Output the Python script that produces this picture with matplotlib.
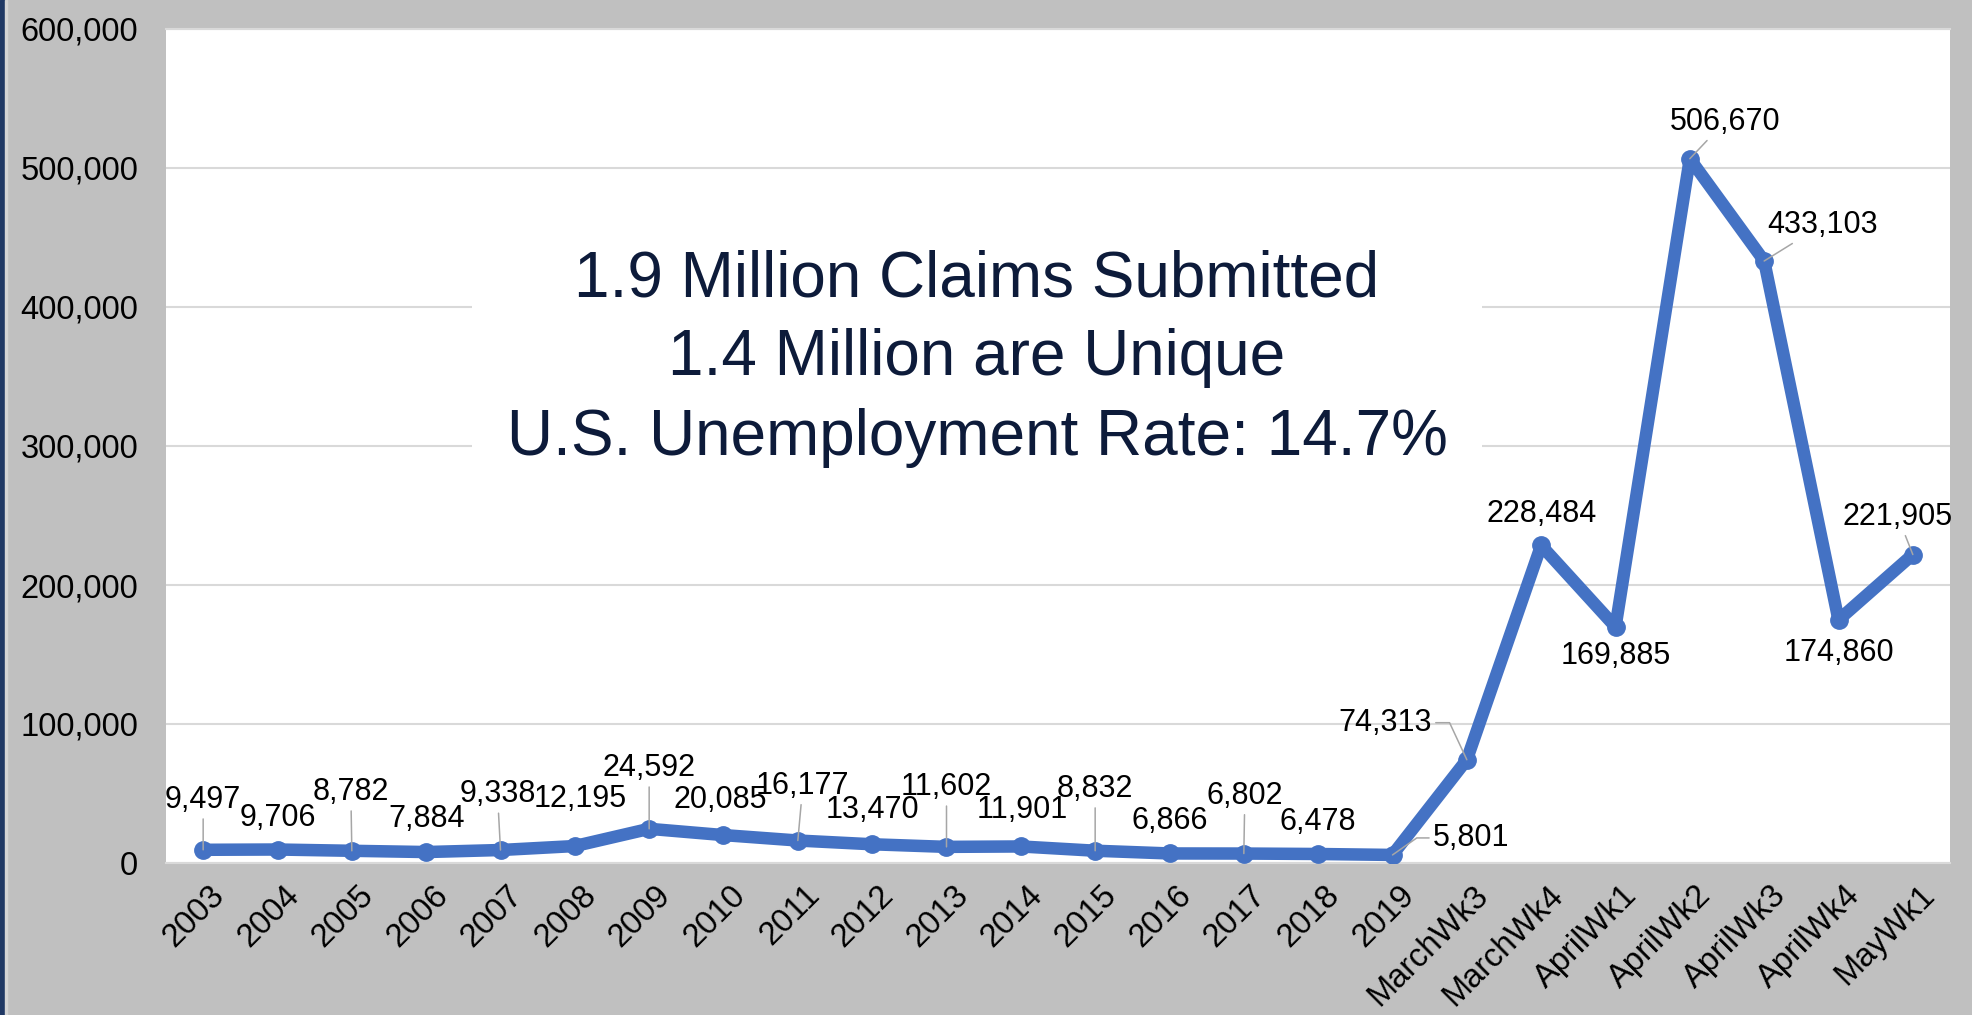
import matplotlib
matplotlib.use("Agg")
import matplotlib.pyplot as plt
from matplotlib.patches import Rectangle
from matplotlib.ticker import FuncFormatter, MultipleLocator
from matplotlib.transforms import ScaledTranslation

# ---------------- data ----------------
categories = ["2003", "2004", "2005", "2006", "2007", "2008", "2009", "2010",
              "2011", "2012", "2013", "2014", "2015", "2016", "2017", "2018",
              "2019", "MarchWk3", "MarchWk4", "AprilWk1", "AprilWk2",
              "AprilWk3", "AprilWk4", "MayWk1"]
claims = [9497, 9706, 8782, 7884, 9338, 12195, 24592, 20085,
          16177, 13470, 11602, 11901, 8832, 6866, 6802, 6478,
          5801, 74313, 228484, 169885, 506670,
          433103, 174860, 221905]
title_lines = ["1.9 Million Claims Submitted",
               "1.4 Million are Unique",
               "U.S. Unemployment Rate: 14.7%"]

# label placement (layout only): offsets in pixels and leader-line style
label_dx = [0, 0, -1, 0, -3, 5, 0, -3, 5, 0, 0, 1, 0, 0, 1, 0,
            79, -82, 0, 0, 35, 58, 0, -15]
label_dy = [50, 32, 59, 33, 56, 47, 61, 35, 55, 34, 60, 36, 62, 32, 58, 32,
            17, 37, 31, -29, 37, 36, -33, 38]
# 0 = none, 1 = straight, 2 = elbow
leader = [1, 0, 1, 0, 1, 0, 1, 0, 1, 0, 1, 0, 1, 0, 1, 0,
          2, 2, 0, 0, 1, 1, 0, 1]
elbow_angle = {16: 35, 17: 115}

W, H, DPI = 1972, 1015, 100
plt.rcParams['font.family'] = ['Liberation Sans', 'DejaVu Sans']

fig = plt.figure(figsize=(W / DPI, H / DPI), dpi=DPI, facecolor='#c0c0c0')
L, R, T, B = 166, 1950, 29, 863
ax = fig.add_axes([L / W, (H - B) / H, (R - L) / W, (B - T) / H])
ax.set_facecolor('white')

# left dark strip
fig.patches.append(Rectangle((0, 0), 5 / W, 1, transform=fig.transFigure,
                             color='#1f3864', zorder=0))
fig.patches.append(Rectangle((5 / W, 0), 2 / W, 1, transform=fig.transFigure,
                             color='#d4d4d4', zorder=0))

x = list(range(len(categories)))
ax.plot(x, claims, color='#4472c4', lw=9, marker='o', ms=12.5,
        solid_joinstyle='round', solid_capstyle='round', zorder=5)

ax.set_xlim(-0.5, len(categories) - 0.5)
ax.set_ylim(0, 600000)
ax.yaxis.set_major_locator(MultipleLocator(100000))
ax.yaxis.set_major_formatter(FuncFormatter(lambda v, p: f"{int(v):,}"))
ax.grid(axis='y', color='#d9d9d9', lw=1.5, zorder=0)
ax.set_axisbelow(True)
for s in ['left', 'right']:
    ax.spines[s].set_visible(False)
for s in ['top', 'bottom']:
    ax.spines[s].set_color('#d9d9d9')
    ax.spines[s].set_linewidth(1.5)

ax.tick_params(axis='y', length=0, pad=20, labelsize=23.5, labelcolor='black')
ax.tick_params(axis='x', length=0, pad=12, labelsize=23.5, labelcolor='black')
ax.set_xticks(x)
ax.set_xticklabels(categories, rotation=45, ha='right', va='top',
                   rotation_mode='anchor')
shift = ScaledTranslation(6 / DPI, 0, fig.dpi_scale_trans)
for lab in ax.get_xticklabels():
    lab.set_transform(lab.get_transform() + shift)

# data labels
for i, v in enumerate(claims):
    kw = {}
    if leader[i] == 1:
        kw['arrowprops'] = dict(arrowstyle='-', color='#a6a6a6', lw=1.1,
                                shrinkA=1, shrinkB=0)
    elif leader[i] == 2:
        kw['arrowprops'] = dict(arrowstyle='-', color='#a6a6a6', lw=1.1,
                                shrinkA=1, shrinkB=0,
                                connectionstyle=f"angle,angleA=0,angleB={elbow_angle[i]},rad=0")
    ax.annotate(f"{v:,}", xy=(i, v), xytext=(label_dx[i], label_dy[i]),
                textcoords='offset pixels', ha='center', va='center',
                fontsize=22, color='black', zorder=6, **kw)

# title box
def axx(px):
    return (px - L) / (R - L)

def axy(py):
    return (B - py) / (B - T)

ax.add_patch(Rectangle((axx(472), axy(472)), axx(1482) - axx(472),
                       axy(233) - axy(472), transform=ax.transAxes,
                       facecolor='white', edgecolor='none', zorder=1))
for line, py in zip(title_lines, [297, 375, 455]):
    ax.text(axx(977), axy(py), line, transform=ax.transAxes, ha='center',
            va='baseline', fontsize=46, color='#0d1b3a', zorder=2)

fig.savefig('out.png', dpi=DPI, facecolor=fig.get_facecolor())
